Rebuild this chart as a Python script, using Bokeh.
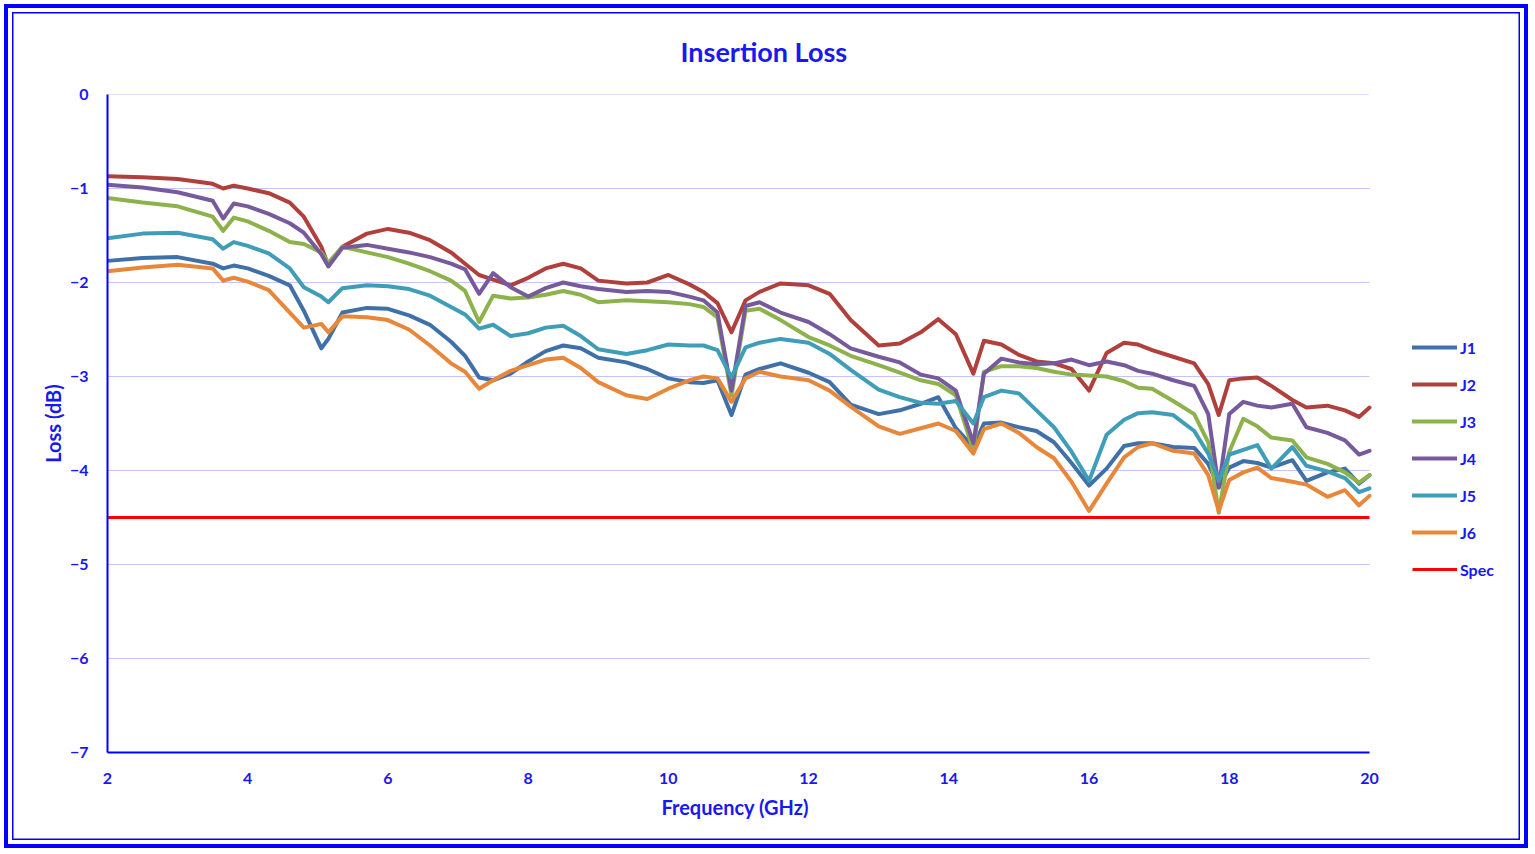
from bokeh.plotting import figure
from bokeh.models import Legend, LegendItem, FixedTicker, Title
from bokeh.embed import file_html
from bokeh.resources import INLINE

# ---------------- data ----------------
freq = [2.0, 2.5, 3.0, 3.5, 3.65, 3.8, 4.0, 4.3, 4.6, 4.8, 5.05, 5.15, 5.35, 5.7, 6.0,
        6.3, 6.6, 6.9, 7.1, 7.3, 7.5, 7.75, 8.0, 8.25, 8.5, 8.75, 9.0, 9.4, 9.7, 10.0,
        10.3, 10.5, 10.7, 10.9, 11.1, 11.3, 11.6, 12.0, 12.3, 12.6, 13.0, 13.3, 13.6,
        13.85, 14.1, 14.35, 14.5, 14.75, 15.0, 15.25, 15.5, 15.75, 16.0, 16.25, 16.5,
        16.7, 16.9, 17.2, 17.5, 17.7, 17.85, 18.0, 18.2, 18.4, 18.6, 18.9, 19.1, 19.4,
        19.65, 19.85, 20.0]

j1 = [-1.77, -1.74, -1.73, -1.80, -1.85, -1.82, -1.85, -1.93, -2.03, -2.30, -2.70, -2.60,
      -2.32, -2.27, -2.28, -2.35, -2.45, -2.63, -2.78, -3.01, -3.04, -2.97, -2.84, -2.73,
      -2.67, -2.70, -2.80, -2.85, -2.92, -3.02, -3.06, -3.07, -3.04, -3.41, -2.98, -2.92,
      -2.86, -2.96, -3.06, -3.30, -3.40, -3.36, -3.29, -3.22, -3.55, -3.75, -3.50, -3.49,
      -3.54, -3.58, -3.70, -3.92, -4.16, -3.98, -3.74, -3.71, -3.71, -3.75, -3.76, -3.93,
      -4.18, -3.97, -3.90, -3.92, -3.97, -3.89, -4.11, -4.02, -3.98, -4.14, -4.05]

j2 = [-0.87, -0.88, -0.90, -0.95, -1.00, -0.97, -1.00, -1.05, -1.15, -1.30, -1.62, -1.82,
      -1.62, -1.48, -1.43, -1.47, -1.55, -1.68, -1.80, -1.92, -1.97, -2.03, -1.95, -1.85,
      -1.80, -1.85, -1.98, -2.01, -2.00, -1.92, -2.02, -2.10, -2.22, -2.53, -2.19, -2.10,
      -2.01, -2.03, -2.12, -2.40, -2.67, -2.65, -2.53, -2.39, -2.55, -2.97, -2.62, -2.66,
      -2.77, -2.84, -2.86, -2.92, -3.15, -2.75, -2.64, -2.66, -2.72, -2.79, -2.86, -3.08,
      -3.41, -3.04, -3.02, -3.01, -3.10, -3.25, -3.33, -3.31, -3.36, -3.43, -3.33]

j3 = [-1.10, -1.15, -1.19, -1.30, -1.45, -1.31, -1.35, -1.45, -1.57, -1.59, -1.68, -1.79,
      -1.62, -1.68, -1.73, -1.80, -1.88, -1.98, -2.09, -2.42, -2.14, -2.17, -2.16, -2.13,
      -2.09, -2.13, -2.21, -2.19, -2.20, -2.21, -2.23, -2.26, -2.37, -3.20, -2.30, -2.28,
      -2.40, -2.58, -2.67, -2.78, -2.88, -2.96, -3.04, -3.08, -3.20, -3.79, -2.95, -2.89,
      -2.89, -2.91, -2.95, -2.98, -2.99, -3.00, -3.05, -3.12, -3.13, -3.26, -3.40, -3.70,
      -4.45, -3.80, -3.45, -3.53, -3.65, -3.68, -3.86, -3.93, -4.02, -4.13, -4.05]

j4 = [-0.96, -0.99, -1.04, -1.13, -1.32, -1.16, -1.19, -1.27, -1.37, -1.47, -1.70, -1.83,
      -1.63, -1.60, -1.64, -1.68, -1.73, -1.80, -1.86, -2.12, -1.90, -2.05, -2.15, -2.06,
      -2.00, -2.04, -2.07, -2.10, -2.09, -2.10, -2.15, -2.19, -2.32, -3.15, -2.25, -2.21,
      -2.32, -2.42, -2.55, -2.70, -2.79, -2.85, -2.98, -3.02, -3.15, -3.71, -2.97, -2.81,
      -2.85, -2.87, -2.86, -2.82, -2.88, -2.84, -2.88, -2.94, -2.97, -3.04, -3.10, -3.40,
      -4.18, -3.40, -3.27, -3.31, -3.33, -3.29, -3.54, -3.60, -3.68, -3.83, -3.79]

j5 = [-1.53, -1.48, -1.47, -1.54, -1.64, -1.57, -1.61, -1.69, -1.85, -2.05, -2.15, -2.21,
      -2.06, -2.03, -2.04, -2.07, -2.14, -2.26, -2.34, -2.49, -2.45, -2.57, -2.54, -2.48,
      -2.46, -2.57, -2.71, -2.76, -2.72, -2.66, -2.67, -2.67, -2.72, -3.01, -2.69, -2.64,
      -2.60, -2.64, -2.76, -2.93, -3.14, -3.22, -3.28, -3.29, -3.26, -3.50, -3.22, -3.15,
      -3.18, -3.36, -3.54, -3.80, -4.11, -3.62, -3.46, -3.39, -3.38, -3.41, -3.58, -3.82,
      -4.11, -3.83, -3.78, -3.73, -3.98, -3.75, -3.95, -4.01, -4.08, -4.23, -4.19]

j6 = [-1.88, -1.84, -1.81, -1.85, -1.98, -1.95, -1.99, -2.08, -2.32, -2.48, -2.44, -2.53,
      -2.36, -2.37, -2.40, -2.50, -2.67, -2.86, -2.95, -3.13, -3.04, -2.94, -2.88, -2.82,
      -2.80, -2.91, -3.06, -3.20, -3.24, -3.13, -3.04, -3.00, -3.02, -3.27, -3.02, -2.95,
      -3.00, -3.04, -3.15, -3.32, -3.53, -3.61, -3.55, -3.50, -3.58, -3.82, -3.56, -3.50,
      -3.60, -3.75, -3.87, -4.12, -4.43, -4.14, -3.86, -3.75, -3.71, -3.79, -3.82, -4.05,
      -4.43, -4.10, -4.02, -3.97, -4.08, -4.12, -4.15, -4.28, -4.21, -4.37, -4.27]

spec_x = [2, 20]
spec_y = [-4.5, -4.5]

series_names = ["J1", "J2", "J3", "J4", "J5", "J6"]
series_vals = [j1, j2, j3, j4, j5, j6]
series_colors = ["#4070a8", "#b0403c", "#8db24c", "#765a9c", "#3f9db8", "#e8873a"]

x_ticks = [2, 4, 6, 8, 10, 12, 14, 16, 18, 20]
y_ticks = [-7, -6, -5, -4, -3, -2, -1, 0]
x_start, x_stop = 2, 20

BLUE = "#0000ff"
TXT = "#1818f0"
FONT = "Lato"

# ---------------- layout sizes ----------------
W, H = 1532, 852
BL, BT, BR = 107, 94, 16
BB = H - BT - 658
frame_w = W - BL - BR
plot_w = 1262  # pixel width of the 2..20 GHz span
x_end = x_start + frame_w * (x_stop - x_start) / plot_w

# ---------------- figure ----------------
p = figure(width=W, height=H, output_backend="svg", toolbar_location=None,
           x_range=(x_start, x_end), y_range=(-7, 0),
           min_border_left=BL, min_border_right=BR, min_border_top=BT, min_border_bottom=BB,
           background_fill_color="white", border_fill_color=None)
# double blue frame round the chart (thick outer ring, thin inner ring)
p.styles = {"background-color": "white",
            "box-shadow": "inset 0 0 0 4px white, inset 0 0 0 8px #0000ff, "
                          "inset 0 0 0 12px white, inset 0 0 0 13.5px #0000ff"}
p.title = Title(text="Insertion Loss", align="left", offset=573, standoff=54,
                text_font=FONT, text_font_size="27px", text_font_style="bold", text_color=TXT)
p.outline_line_color = None

# horizontal gridlines across the 2..20 GHz span only
p.segment(x0=[x_start] * len(y_ticks), y0=y_ticks, x1=[x_stop] * len(y_ticks), y1=y_ticks,
          line_color="#c4c4ff", line_width=1, level="underlay")

renderers = []
for name, vals, col in zip(series_names, series_vals, series_colors):
    r = p.line(freq, vals, line_color=col, line_width=4, line_join="round", line_cap="round")
    renderers.append((name, r))
rs = p.line(spec_x, spec_y, line_color="#ff0000", line_width=3)
renderers.append(("Spec", rs))

# axes
for ax in (p.xaxis[0], p.yaxis[0]):
    ax.axis_line_color = BLUE
    ax.axis_line_width = 2
    ax.major_tick_line_color = None
    ax.minor_tick_line_color = None
    ax.major_label_text_color = TXT
    ax.major_label_text_font = FONT
    ax.major_label_text_font_size = "16px"
    ax.major_label_text_font_style = "bold"
    ax.axis_label_text_color = TXT
    ax.axis_label_text_font = FONT
    ax.axis_label_text_font_size = "20px"
    ax.axis_label_text_font_style = "bold"

p.xaxis.ticker = FixedTicker(ticks=x_ticks)
p.yaxis.ticker = FixedTicker(ticks=y_ticks)
p.xaxis.bounds = (x_start, x_stop)
p.yaxis.axis_label = "Loss (dB)"
p.xaxis.major_label_standoff = 14
p.yaxis.major_label_standoff = 13
p.yaxis.axis_label_standoff = 2

# x-axis title, centred under the 2..20 GHz span
p.add_layout(Title(text="Frequency (GHz)", align="left", offset=554, standoff=12,
                   text_font=FONT, text_font_size="20px", text_font_style="bold",
                   text_color=TXT), "below")

p.xgrid.visible = False
p.ygrid.visible = False

legend = Legend(items=[LegendItem(label=n, renderers=[r]) for n, r in renderers],
                location=(1305, 173), orientation="vertical",
                glyph_width=45, glyph_height=20, label_height=20, spacing=17,
                label_standoff=3, padding=0, margin=0,
                border_line_color=None, background_fill_alpha=0,
                label_text_color=TXT, label_text_font=FONT,
                label_text_font_size="16px", label_text_font_style="bold")
p.add_layout(legend)

open("out.html", "w").write(file_html(p, INLINE))
